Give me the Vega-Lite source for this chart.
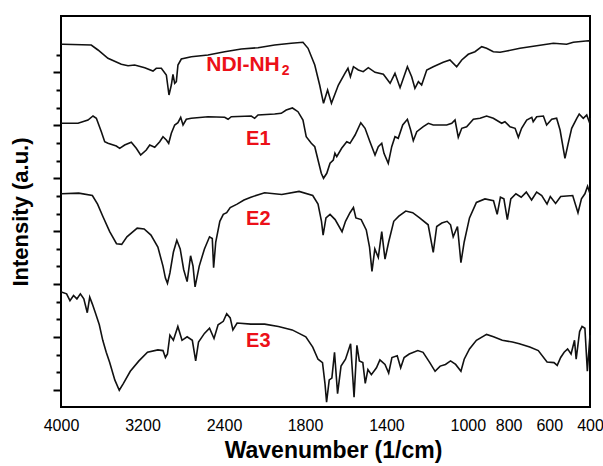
{
"$schema":"https://vega.github.io/schema/vega-lite/v6.json",
"width":529,"height":391,
"autosize":{"type":"none"},
"padding":{"left":61,"top":16,"right":13,"bottom":59},
"background":"white",
"config":{"view":{"stroke":"black","strokeWidth":2},"font":"Liberation Sans"},
"datasets":{
"spectra":[
{"sample":"NDI-NH2","wavenumber":4000,"intensity":362.7},{"sample":"NDI-NH2","wavenumber":3980,"intensity":362.7},{"sample":"NDI-NH2","wavenumber":3703,"intensity":362},{"sample":"NDI-NH2","wavenumber":3637,"intensity":357},{"sample":"NDI-NH2","wavenumber":3539,"intensity":348.7},{"sample":"NDI-NH2","wavenumber":3408,"intensity":342.7},{"sample":"NDI-NH2","wavenumber":3342,"intensity":341.3},{"sample":"NDI-NH2","wavenumber":3277,"intensity":342},{"sample":"NDI-NH2","wavenumber":3178,"intensity":339.3},{"sample":"NDI-NH2","wavenumber":3097,"intensity":336},{"sample":"NDI-NH2","wavenumber":3065,"intensity":338.7},{"sample":"NDI-NH2","wavenumber":3015,"intensity":338.7},{"sample":"NDI-NH2","wavenumber":2966,"intensity":332},{"sample":"NDI-NH2","wavenumber":2940,"intensity":312},{"sample":"NDI-NH2","wavenumber":2917,"intensity":322},{"sample":"NDI-NH2","wavenumber":2901,"intensity":332.7},{"sample":"NDI-NH2","wavenumber":2884,"intensity":323.7},{"sample":"NDI-NH2","wavenumber":2868,"intensity":325.3},{"sample":"NDI-NH2","wavenumber":2852,"intensity":342},{"sample":"NDI-NH2","wavenumber":2819,"intensity":348},{"sample":"NDI-NH2","wavenumber":2721,"intensity":350.3},{"sample":"NDI-NH2","wavenumber":2557,"intensity":352},{"sample":"NDI-NH2","wavenumber":2395,"intensity":355.3},{"sample":"NDI-NH2","wavenumber":2272,"intensity":358},{"sample":"NDI-NH2","wavenumber":2148,"intensity":359.3},{"sample":"NDI-NH2","wavenumber":2025,"intensity":362},{"sample":"NDI-NH2","wavenumber":1902,"intensity":363.7},{"sample":"NDI-NH2","wavenumber":1815,"intensity":364.7},{"sample":"NDI-NH2","wavenumber":1785,"intensity":358.7},{"sample":"NDI-NH2","wavenumber":1752,"intensity":342},{"sample":"NDI-NH2","wavenumber":1728,"intensity":322},{"sample":"NDI-NH2","wavenumber":1709,"intensity":303.7},{"sample":"NDI-NH2","wavenumber":1689,"intensity":317},{"sample":"NDI-NH2","wavenumber":1670,"intensity":303.7},{"sample":"NDI-NH2","wavenumber":1636,"intensity":322},{"sample":"NDI-NH2","wavenumber":1604,"intensity":333.7},{"sample":"NDI-NH2","wavenumber":1589,"intensity":338.7},{"sample":"NDI-NH2","wavenumber":1577,"intensity":330.3},{"sample":"NDI-NH2","wavenumber":1562,"intensity":340.3},{"sample":"NDI-NH2","wavenumber":1538,"intensity":337},{"sample":"NDI-NH2","wavenumber":1514,"intensity":335.3},{"sample":"NDI-NH2","wavenumber":1489,"intensity":339.3},{"sample":"NDI-NH2","wavenumber":1456,"intensity":334.7},{"sample":"NDI-NH2","wavenumber":1415,"intensity":332.7},{"sample":"NDI-NH2","wavenumber":1382,"intensity":323.7},{"sample":"NDI-NH2","wavenumber":1358,"intensity":333.7},{"sample":"NDI-NH2","wavenumber":1333,"intensity":319.3},{"sample":"NDI-NH2","wavenumber":1297,"intensity":340.3},{"sample":"NDI-NH2","wavenumber":1276,"intensity":330.3},{"sample":"NDI-NH2","wavenumber":1260,"intensity":318.7},{"sample":"NDI-NH2","wavenumber":1243,"intensity":325.3},{"sample":"NDI-NH2","wavenumber":1227,"intensity":322},{"sample":"NDI-NH2","wavenumber":1202,"intensity":337},{"sample":"NDI-NH2","wavenumber":1170,"intensity":340.3},{"sample":"NDI-NH2","wavenumber":1121,"intensity":344.7},{"sample":"NDI-NH2","wavenumber":1088,"intensity":347},{"sample":"NDI-NH2","wavenumber":1055,"intensity":340.3},{"sample":"NDI-NH2","wavenumber":1030,"intensity":347},{"sample":"NDI-NH2","wavenumber":998,"intensity":352.7},{"sample":"NDI-NH2","wavenumber":965,"intensity":355.3},{"sample":"NDI-NH2","wavenumber":932,"intensity":360.3},{"sample":"NDI-NH2","wavenumber":908,"intensity":358.7},{"sample":"NDI-NH2","wavenumber":875,"intensity":355.3},{"sample":"NDI-NH2","wavenumber":842,"intensity":354.7},{"sample":"NDI-NH2","wavenumber":809,"intensity":356},{"sample":"NDI-NH2","wavenumber":744,"intensity":358.7},{"sample":"NDI-NH2","wavenumber":662,"intensity":361.3},{"sample":"NDI-NH2","wavenumber":580,"intensity":363.7},{"sample":"NDI-NH2","wavenumber":515,"intensity":362.7},{"sample":"NDI-NH2","wavenumber":482,"intensity":364.7},{"sample":"NDI-NH2","wavenumber":408,"intensity":366.3},{"sample":"NDI-NH2","wavenumber":400,"intensity":366},
{"sample":"E1","wavenumber":4000,"intensity":283.7},{"sample":"E1","wavenumber":3997,"intensity":283.7},{"sample":"E1","wavenumber":3833,"intensity":283.7},{"sample":"E1","wavenumber":3735,"intensity":287},{"sample":"E1","wavenumber":3686,"intensity":291},{"sample":"E1","wavenumber":3653,"intensity":288.7},{"sample":"E1","wavenumber":3604,"intensity":275.3},{"sample":"E1","wavenumber":3571,"intensity":265.3},{"sample":"E1","wavenumber":3539,"intensity":263.7},{"sample":"E1","wavenumber":3457,"intensity":261},{"sample":"E1","wavenumber":3424,"intensity":258.7},{"sample":"E1","wavenumber":3375,"intensity":262},{"sample":"E1","wavenumber":3310,"intensity":264.7},{"sample":"E1","wavenumber":3261,"intensity":258.7},{"sample":"E1","wavenumber":3218,"intensity":252},{"sample":"E1","wavenumber":3163,"intensity":257},{"sample":"E1","wavenumber":3129,"intensity":262},{"sample":"E1","wavenumber":3080,"intensity":259.7},{"sample":"E1","wavenumber":3031,"intensity":265.3},{"sample":"E1","wavenumber":2999,"intensity":270.3},{"sample":"E1","wavenumber":2966,"intensity":267},{"sample":"E1","wavenumber":2943,"intensity":263.7},{"sample":"E1","wavenumber":2917,"intensity":273.7},{"sample":"E1","wavenumber":2884,"intensity":282},{"sample":"E1","wavenumber":2852,"intensity":284.3},{"sample":"E1","wavenumber":2825,"intensity":289.7},{"sample":"E1","wavenumber":2802,"intensity":282},{"sample":"E1","wavenumber":2770,"intensity":287.7},{"sample":"E1","wavenumber":2721,"intensity":288.7},{"sample":"E1","wavenumber":2557,"intensity":290.3},{"sample":"E1","wavenumber":2395,"intensity":289.7},{"sample":"E1","wavenumber":2370,"intensity":287.7},{"sample":"E1","wavenumber":2346,"intensity":290.3},{"sample":"E1","wavenumber":2198,"intensity":291},{"sample":"E1","wavenumber":2173,"intensity":288.7},{"sample":"E1","wavenumber":2148,"intensity":292},{"sample":"E1","wavenumber":2025,"intensity":293},{"sample":"E1","wavenumber":1976,"intensity":293.7},{"sample":"E1","wavenumber":1939,"intensity":297},{"sample":"E1","wavenumber":1893,"intensity":299},{"sample":"E1","wavenumber":1852,"intensity":295.3},{"sample":"E1","wavenumber":1815,"intensity":287},{"sample":"E1","wavenumber":1794,"intensity":270.3},{"sample":"E1","wavenumber":1769,"intensity":263.7},{"sample":"E1","wavenumber":1752,"intensity":260.3},{"sample":"E1","wavenumber":1736,"intensity":247},{"sample":"E1","wavenumber":1720,"intensity":233.7},{"sample":"E1","wavenumber":1709,"intensity":228.7},{"sample":"E1","wavenumber":1693,"intensity":233.7},{"sample":"E1","wavenumber":1677,"intensity":243.7},{"sample":"E1","wavenumber":1661,"intensity":247},{"sample":"E1","wavenumber":1653,"intensity":253.7},{"sample":"E1","wavenumber":1644,"intensity":250.3},{"sample":"E1","wavenumber":1620,"intensity":258.7},{"sample":"E1","wavenumber":1595,"intensity":265.3},{"sample":"E1","wavenumber":1579,"intensity":263.7},{"sample":"E1","wavenumber":1554,"intensity":272},{"sample":"E1","wavenumber":1526,"intensity":284.3},{"sample":"E1","wavenumber":1505,"intensity":278.7},{"sample":"E1","wavenumber":1481,"intensity":265.3},{"sample":"E1","wavenumber":1456,"intensity":252},{"sample":"E1","wavenumber":1440,"intensity":260.3},{"sample":"E1","wavenumber":1423,"intensity":263.7},{"sample":"E1","wavenumber":1412,"intensity":253.7},{"sample":"E1","wavenumber":1391,"intensity":243.7},{"sample":"E1","wavenumber":1374,"intensity":260.3},{"sample":"E1","wavenumber":1358,"intensity":270.3},{"sample":"E1","wavenumber":1342,"intensity":268.7},{"sample":"E1","wavenumber":1320,"intensity":282},{"sample":"E1","wavenumber":1297,"intensity":287.7},{"sample":"E1","wavenumber":1281,"intensity":277},{"sample":"E1","wavenumber":1268,"intensity":266.3},{"sample":"E1","wavenumber":1251,"intensity":275.3},{"sample":"E1","wavenumber":1219,"intensity":280.3},{"sample":"E1","wavenumber":1194,"intensity":283.7},{"sample":"E1","wavenumber":1170,"intensity":282},{"sample":"E1","wavenumber":1104,"intensity":282},{"sample":"E1","wavenumber":1079,"intensity":283.7},{"sample":"E1","wavenumber":1063,"intensity":287},{"sample":"E1","wavenumber":1047,"intensity":269.7},{"sample":"E1","wavenumber":1030,"intensity":278.7},{"sample":"E1","wavenumber":1006,"intensity":280.3},{"sample":"E1","wavenumber":973,"intensity":287.7},{"sample":"E1","wavenumber":940,"intensity":288.7},{"sample":"E1","wavenumber":908,"intensity":291},{"sample":"E1","wavenumber":875,"intensity":288.7},{"sample":"E1","wavenumber":834,"intensity":283.7},{"sample":"E1","wavenumber":818,"intensity":285.3},{"sample":"E1","wavenumber":793,"intensity":280.3},{"sample":"E1","wavenumber":768,"intensity":278.7},{"sample":"E1","wavenumber":752,"intensity":269.7},{"sample":"E1","wavenumber":736,"intensity":278.7},{"sample":"E1","wavenumber":711,"intensity":287},{"sample":"E1","wavenumber":686,"intensity":289.7},{"sample":"E1","wavenumber":679,"intensity":285.3},{"sample":"E1","wavenumber":662,"intensity":290.3},{"sample":"E1","wavenumber":629,"intensity":291},{"sample":"E1","wavenumber":613,"intensity":282},{"sample":"E1","wavenumber":588,"intensity":287.7},{"sample":"E1","wavenumber":564,"intensity":288.7},{"sample":"E1","wavenumber":547,"intensity":277},{"sample":"E1","wavenumber":523,"intensity":248.7},{"sample":"E1","wavenumber":507,"intensity":263.7},{"sample":"E1","wavenumber":490,"intensity":278.7},{"sample":"E1","wavenumber":465,"intensity":288.7},{"sample":"E1","wavenumber":453,"intensity":293},{"sample":"E1","wavenumber":433,"intensity":288.7},{"sample":"E1","wavenumber":416,"intensity":292},{"sample":"E1","wavenumber":404,"intensity":285.3},{"sample":"E1","wavenumber":400,"intensity":289},
{"sample":"E2","wavenumber":4000,"intensity":213.2},{"sample":"E2","wavenumber":3996,"intensity":213.2},{"sample":"E2","wavenumber":3826,"intensity":213.9},{"sample":"E2","wavenumber":3692,"intensity":211.5},{"sample":"E2","wavenumber":3641,"intensity":202.9},{"sample":"E2","wavenumber":3590,"intensity":190.8},{"sample":"E2","wavenumber":3522,"intensity":175.3},{"sample":"E2","wavenumber":3455,"intensity":163.3},{"sample":"E2","wavenumber":3404,"intensity":162.6},{"sample":"E2","wavenumber":3353,"intensity":170.2},{"sample":"E2","wavenumber":3252,"intensity":178.8},{"sample":"E2","wavenumber":3184,"intensity":178.1},{"sample":"E2","wavenumber":3117,"intensity":171.9},{"sample":"E2","wavenumber":3049,"intensity":159.9},{"sample":"E2","wavenumber":2999,"intensity":140.9},{"sample":"E2","wavenumber":2975,"intensity":128.9},{"sample":"E2","wavenumber":2955,"intensity":123.7},{"sample":"E2","wavenumber":2931,"intensity":134},{"sample":"E2","wavenumber":2897,"intensity":154.7},{"sample":"E2","wavenumber":2863,"intensity":166.7},{"sample":"E2","wavenumber":2830,"intensity":158.1},{"sample":"E2","wavenumber":2796,"intensity":137.5},{"sample":"E2","wavenumber":2762,"intensity":125.4},{"sample":"E2","wavenumber":2728,"intensity":151.2},{"sample":"E2","wavenumber":2704,"intensity":140.9},{"sample":"E2","wavenumber":2684,"intensity":120.2},{"sample":"E2","wavenumber":2643,"intensity":140.9},{"sample":"E2","wavenumber":2592,"intensity":158.1},{"sample":"E2","wavenumber":2542,"intensity":170.2},{"sample":"E2","wavenumber":2515,"intensity":168.5},{"sample":"E2","wavenumber":2502,"intensity":139.2},{"sample":"E2","wavenumber":2481,"intensity":165},{"sample":"E2","wavenumber":2441,"intensity":185.7},{"sample":"E2","wavenumber":2407,"intensity":192.6},{"sample":"E2","wavenumber":2380,"intensity":194.3},{"sample":"E2","wavenumber":2354,"intensity":199.5},{"sample":"E2","wavenumber":2303,"intensity":202.9},{"sample":"E2","wavenumber":2252,"intensity":207},{"sample":"E2","wavenumber":2201,"intensity":209.8},{"sample":"E2","wavenumber":2099,"intensity":214.3},{"sample":"E2","wavenumber":1972,"intensity":212.5},{"sample":"E2","wavenumber":1844,"intensity":215.6},{"sample":"E2","wavenumber":1762,"intensity":211.5},{"sample":"E2","wavenumber":1736,"intensity":202.9},{"sample":"E2","wavenumber":1719,"intensity":185.7},{"sample":"E2","wavenumber":1711,"intensity":171.9},{"sample":"E2","wavenumber":1697,"intensity":189.1},{"sample":"E2","wavenumber":1677,"intensity":192.6},{"sample":"E2","wavenumber":1652,"intensity":187.4},{"sample":"E2","wavenumber":1618,"intensity":175.3},{"sample":"E2","wavenumber":1601,"intensity":185.7},{"sample":"E2","wavenumber":1579,"intensity":194.3},{"sample":"E2","wavenumber":1562,"intensity":199.5},{"sample":"E2","wavenumber":1550,"intensity":189.1},{"sample":"E2","wavenumber":1524,"intensity":187.4},{"sample":"E2","wavenumber":1499,"intensity":177.1},{"sample":"E2","wavenumber":1483,"intensity":159.9},{"sample":"E2","wavenumber":1471,"intensity":135.7},{"sample":"E2","wavenumber":1457,"intensity":158.1},{"sample":"E2","wavenumber":1440,"intensity":149.5},{"sample":"E2","wavenumber":1423,"intensity":175.3},{"sample":"E2","wavenumber":1407,"intensity":147.8},{"sample":"E2","wavenumber":1389,"intensity":165},{"sample":"E2","wavenumber":1364,"intensity":185.7},{"sample":"E2","wavenumber":1339,"intensity":190.8},{"sample":"E2","wavenumber":1305,"intensity":196},{"sample":"E2","wavenumber":1271,"intensity":194.3},{"sample":"E2","wavenumber":1237,"intensity":189.1},{"sample":"E2","wavenumber":1195,"intensity":182.2},{"sample":"E2","wavenumber":1170,"intensity":154.7},{"sample":"E2","wavenumber":1153,"intensity":180.5},{"sample":"E2","wavenumber":1128,"intensity":184},{"sample":"E2","wavenumber":1102,"intensity":185.7},{"sample":"E2","wavenumber":1085,"intensity":182.2},{"sample":"E2","wavenumber":1072,"intensity":170.2},{"sample":"E2","wavenumber":1051,"intensity":180.5},{"sample":"E2","wavenumber":1034,"intensity":144.4},{"sample":"E2","wavenumber":1018,"intensity":165},{"sample":"E2","wavenumber":992,"intensity":189.1},{"sample":"E2","wavenumber":958,"intensity":204.6},{"sample":"E2","wavenumber":916,"intensity":208.1},{"sample":"E2","wavenumber":874,"intensity":206.3},{"sample":"E2","wavenumber":856,"intensity":192.6},{"sample":"E2","wavenumber":840,"intensity":209.8},{"sample":"E2","wavenumber":823,"intensity":208.1},{"sample":"E2","wavenumber":806,"intensity":187.4},{"sample":"E2","wavenumber":789,"intensity":208.1},{"sample":"E2","wavenumber":764,"intensity":213.2},{"sample":"E2","wavenumber":738,"intensity":209.8},{"sample":"E2","wavenumber":713,"intensity":214.9},{"sample":"E2","wavenumber":687,"intensity":207},{"sample":"E2","wavenumber":662,"intensity":214.9},{"sample":"E2","wavenumber":637,"intensity":211.5},{"sample":"E2","wavenumber":611,"intensity":202.9},{"sample":"E2","wavenumber":595,"intensity":210.5},{"sample":"E2","wavenumber":569,"intensity":203.6},{"sample":"E2","wavenumber":544,"intensity":210.5},{"sample":"E2","wavenumber":485,"intensity":211.5},{"sample":"E2","wavenumber":459,"intensity":194.3},{"sample":"E2","wavenumber":442,"intensity":208.1},{"sample":"E2","wavenumber":425,"intensity":213.2},{"sample":"E2","wavenumber":412,"intensity":220.8},{"sample":"E2","wavenumber":400,"intensity":213.2},
{"sample":"E3","wavenumber":4000,"intensity":115},{"sample":"E3","wavenumber":3996,"intensity":115},{"sample":"E3","wavenumber":3945,"intensity":113.2},{"sample":"E3","wavenumber":3912,"intensity":106.3},{"sample":"E3","wavenumber":3877,"intensity":111.5},{"sample":"E3","wavenumber":3844,"intensity":108.1},{"sample":"E3","wavenumber":3810,"intensity":113.2},{"sample":"E3","wavenumber":3776,"intensity":108.1},{"sample":"E3","wavenumber":3742,"intensity":94.3},{"sample":"E3","wavenumber":3718,"intensity":109.8},{"sample":"E3","wavenumber":3692,"intensity":102.9},{"sample":"E3","wavenumber":3657,"intensity":92.6},{"sample":"E3","wavenumber":3624,"intensity":82.2},{"sample":"E3","wavenumber":3590,"intensity":66.7},{"sample":"E3","wavenumber":3556,"intensity":54.7},{"sample":"E3","wavenumber":3522,"intensity":44.4},{"sample":"E3","wavenumber":3472,"intensity":27.1},{"sample":"E3","wavenumber":3428,"intensity":16.8},{"sample":"E3","wavenumber":3387,"intensity":23.7},{"sample":"E3","wavenumber":3320,"intensity":35.7},{"sample":"E3","wavenumber":3235,"intensity":46.1},{"sample":"E3","wavenumber":3151,"intensity":54.7},{"sample":"E3","wavenumber":3049,"intensity":57.1},{"sample":"E3","wavenumber":2999,"intensity":56.4},{"sample":"E3","wavenumber":2975,"intensity":49.5},{"sample":"E3","wavenumber":2955,"intensity":53},{"sample":"E3","wavenumber":2931,"intensity":71.9},{"sample":"E3","wavenumber":2897,"intensity":66.7},{"sample":"E3","wavenumber":2853,"intensity":80.5},{"sample":"E3","wavenumber":2812,"intensity":66.7},{"sample":"E3","wavenumber":2762,"intensity":70.2},{"sample":"E3","wavenumber":2711,"intensity":66.7},{"sample":"E3","wavenumber":2678,"intensity":46.1},{"sample":"E3","wavenumber":2650,"intensity":65},{"sample":"E3","wavenumber":2592,"intensity":73.6},{"sample":"E3","wavenumber":2542,"intensity":78.8},{"sample":"E3","wavenumber":2498,"intensity":68.5},{"sample":"E3","wavenumber":2458,"intensity":82.2},{"sample":"E3","wavenumber":2407,"intensity":85.7},{"sample":"E3","wavenumber":2380,"intensity":93.3},{"sample":"E3","wavenumber":2354,"intensity":89.1},{"sample":"E3","wavenumber":2334,"intensity":77.1},{"sample":"E3","wavenumber":2303,"intensity":84},{"sample":"E3","wavenumber":2201,"intensity":82.9},{"sample":"E3","wavenumber":2099,"intensity":82.9},{"sample":"E3","wavenumber":1997,"intensity":80.5},{"sample":"E3","wavenumber":1895,"intensity":77.1},{"sample":"E3","wavenumber":1844,"intensity":73.6},{"sample":"E3","wavenumber":1796,"intensity":70.2},{"sample":"E3","wavenumber":1762,"intensity":59.9},{"sample":"E3","wavenumber":1736,"intensity":47.8},{"sample":"E3","wavenumber":1714,"intensity":44.4},{"sample":"E3","wavenumber":1702,"intensity":23.7},{"sample":"E3","wavenumber":1694,"intensity":4.8},{"sample":"E3","wavenumber":1681,"intensity":27.1},{"sample":"E3","wavenumber":1668,"intensity":28.9},{"sample":"E3","wavenumber":1655,"intensity":54.7},{"sample":"E3","wavenumber":1640,"intensity":13.4},{"sample":"E3","wavenumber":1623,"intensity":40.9},{"sample":"E3","wavenumber":1601,"intensity":47.8},{"sample":"E3","wavenumber":1576,"intensity":63.3},{"sample":"E3","wavenumber":1559,"intensity":9.9},{"sample":"E3","wavenumber":1545,"intensity":61.6},{"sample":"E3","wavenumber":1533,"intensity":46.1},{"sample":"E3","wavenumber":1516,"intensity":44.4},{"sample":"E3","wavenumber":1504,"intensity":23.7},{"sample":"E3","wavenumber":1491,"intensity":37.5},{"sample":"E3","wavenumber":1474,"intensity":32.3},{"sample":"E3","wavenumber":1449,"intensity":39.2},{"sample":"E3","wavenumber":1432,"intensity":47.1},{"sample":"E3","wavenumber":1407,"intensity":42.6},{"sample":"E3","wavenumber":1389,"intensity":34},{"sample":"E3","wavenumber":1373,"intensity":49.5},{"sample":"E3","wavenumber":1347,"intensity":51.2},{"sample":"E3","wavenumber":1330,"intensity":39.2},{"sample":"E3","wavenumber":1313,"intensity":49.5},{"sample":"E3","wavenumber":1288,"intensity":53},{"sample":"E3","wavenumber":1246,"intensity":56.4},{"sample":"E3","wavenumber":1220,"intensity":54.7},{"sample":"E3","wavenumber":1187,"intensity":44.4},{"sample":"E3","wavenumber":1161,"intensity":35.7},{"sample":"E3","wavenumber":1136,"intensity":40.9},{"sample":"E3","wavenumber":1110,"intensity":42.6},{"sample":"E3","wavenumber":1085,"intensity":46.1},{"sample":"E3","wavenumber":1060,"intensity":42.6},{"sample":"E3","wavenumber":1034,"intensity":35.7},{"sample":"E3","wavenumber":1018,"intensity":47.8},{"sample":"E3","wavenumber":992,"intensity":58.1},{"sample":"E3","wavenumber":958,"intensity":66.7},{"sample":"E3","wavenumber":908,"intensity":72.6},{"sample":"E3","wavenumber":874,"intensity":70.2},{"sample":"E3","wavenumber":831,"intensity":66.7},{"sample":"E3","wavenumber":781,"intensity":65},{"sample":"E3","wavenumber":747,"intensity":63.3},{"sample":"E3","wavenumber":696,"intensity":59.9},{"sample":"E3","wavenumber":654,"intensity":56.4},{"sample":"E3","wavenumber":611,"intensity":45},{"sample":"E3","wavenumber":577,"intensity":44.4},{"sample":"E3","wavenumber":561,"intensity":41.6},{"sample":"E3","wavenumber":544,"intensity":49.5},{"sample":"E3","wavenumber":527,"intensity":54.7},{"sample":"E3","wavenumber":510,"intensity":58.1},{"sample":"E3","wavenumber":493,"intensity":53},{"sample":"E3","wavenumber":476,"intensity":66.7},{"sample":"E3","wavenumber":468,"intensity":47.8},{"sample":"E3","wavenumber":451,"intensity":75.4},{"sample":"E3","wavenumber":439,"intensity":80.5},{"sample":"E3","wavenumber":425,"intensity":78.8},{"sample":"E3","wavenumber":413,"intensity":35.7},{"sample":"E3","wavenumber":400,"intensity":71.9}
],
"xticks":[{"wavenumber":4000,"kind":"major"},{"wavenumber":3866.67,"kind":"minor"},{"wavenumber":3733.33,"kind":"minor"},{"wavenumber":3600,"kind":"major"},{"wavenumber":3466.67,"kind":"minor"},{"wavenumber":3333.33,"kind":"minor"},{"wavenumber":3200,"kind":"major"},{"wavenumber":3066.67,"kind":"minor"},{"wavenumber":2933.33,"kind":"minor"},{"wavenumber":2800,"kind":"major"},{"wavenumber":2666.67,"kind":"minor"},{"wavenumber":2533.33,"kind":"minor"},{"wavenumber":2400,"kind":"major"},{"wavenumber":2300,"kind":"minor"},{"wavenumber":2200,"kind":"minor"},{"wavenumber":2100,"kind":"major"},{"wavenumber":2000,"kind":"minor"},{"wavenumber":1900,"kind":"minor"},{"wavenumber":1800,"kind":"major"},{"wavenumber":1733.33,"kind":"minor"},{"wavenumber":1666.67,"kind":"minor"},{"wavenumber":1600,"kind":"major"},{"wavenumber":1533.33,"kind":"minor"},{"wavenumber":1466.67,"kind":"minor"},{"wavenumber":1400,"kind":"major"},{"wavenumber":1333.33,"kind":"minor"},{"wavenumber":1266.67,"kind":"minor"},{"wavenumber":1200,"kind":"major"},{"wavenumber":1133.33,"kind":"minor"},{"wavenumber":1066.67,"kind":"minor"},{"wavenumber":1000,"kind":"major"},{"wavenumber":933.33,"kind":"minor"},{"wavenumber":866.67,"kind":"minor"},{"wavenumber":800,"kind":"major"},{"wavenumber":733.33,"kind":"minor"},{"wavenumber":666.67,"kind":"minor"},{"wavenumber":600,"kind":"major"},{"wavenumber":533.33,"kind":"minor"},{"wavenumber":466.67,"kind":"minor"},{"wavenumber":400,"kind":"major"}],
"labels":[{"label":"NDI-NH","wavenumber":1987,"intensity":336},{"label":"E1","wavenumber":2146,"intensity":262},{"label":"E2","wavenumber":2146,"intensity":182.2},{"label":"E3","wavenumber":2146,"intensity":59.9}]
},
"encoding":{
  "x":{"field":"wavenumber","type":"quantitative","scale":{"domain":[4000,2400,1800,400],"range":[0,163,244,529],"nice":false,"zero":false},
   "axis":{"orient":"bottom","values":[4000,3200,2400,1800,1400,1000,800,600,400],"format":"d",
    "ticks":false,"domain":false,"grid":false,
    "labelFont":"Liberation Sans","labelFontSize":16,"labelColor":"black","labelPadding":10,"labelOverlap":false,"labelFlush":false,
    "title":"Wavenumber (1/cm)","titleFont":"Liberation Sans","titleFontSize":23,"titleFontWeight":"bold","titleColor":"black","titlePadding":6,"titleX":272}},
  "y":{"field":"intensity","type":"quantitative","scale":{"domain":[0,391],"nice":false,"zero":false},
   "axis":{"values":[17,34.65,52.3,69.95,87.6,105.25,122.9,140.55,158.2,175.85,193.5,211.15,228.8,246.45,264.1,281.75,299.4,317.05,334.7,352.35],
    "labels":false,"tickSize":{"condition":{"test":"indexof([17,69.95,122.9,175.85,228.8,281.75,334.7], datum.value) >= 0","value":8},"value":5},
    "tickWidth":2,"tickColor":"black","domain":false,"grid":false,
    "title":"Intensity (a.u.)","titleFont":"Liberation Sans","titleFontSize":22,"titleFontWeight":"bold","titleColor":"black","titlePadding":20}}
},
"layer":[
{"data":{"name":"spectra"},
 "mark":{"type":"line","color":"#111111","strokeWidth":1.6},
 "encoding":{"detail":{"field":"sample"}}},
{"data":{"name":"xticks"},"transform":[{"filter":"datum.kind == 'major'"}],
 "mark":{"type":"tick","orient":"vertical","color":"black","size":7,"thickness":2,"opacity":1,"clip":false},
 "encoding":{"y":{"datum":-3.5,"type":"quantitative"}}},
{"data":{"name":"xticks"},"transform":[{"filter":"datum.kind == 'minor'"}],
 "mark":{"type":"tick","orient":"vertical","color":"black","size":4,"thickness":2,"opacity":1,"clip":false},
 "encoding":{"y":{"datum":-2,"type":"quantitative"}}},
{"data":{"name":"labels"},"transform":[{"filter":"datum.label != 'NDI-NH'"}],
 "mark":{"type":"text","color":"#ec1018","font":"Liberation Sans","fontWeight":"bold","fontSize":20,"align":"center","baseline":"alphabetic"},
 "encoding":{"text":{"field":"label"}}},
{"data":{"name":"labels"},"transform":[{"filter":"datum.label == 'NDI-NH'"}],
 "mark":{"type":"text","color":"#ec1018","font":"Liberation Sans","fontWeight":"bold","fontSize":21,"align":"right","baseline":"alphabetic"},
 "encoding":{"text":{"field":"label"}}},
{"data":{"name":"labels"},"transform":[{"filter":"datum.label == 'NDI-NH'"}],
 "mark":{"type":"text","color":"#ec1018","font":"Liberation Sans","fontWeight":"bold","fontSize":14,"align":"left","baseline":"alphabetic","dx":2,"dy":4,"text":"2"},
 "encoding":{}}
]
}
